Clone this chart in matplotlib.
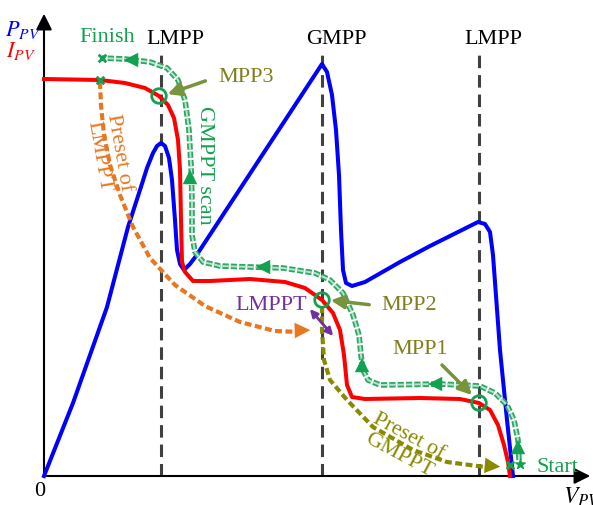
import numpy as np
import matplotlib
matplotlib.use("Agg")
from matplotlib import pyplot as plt

plt.rcParams['lines.scale_dashes'] = False
plt.rcParams['mathtext.fontset'] = 'stix'
plt.rcParams['font.family'] = ['Liberation Serif', 'DejaVu Serif']

# curva de potencia P-V (unidades arbitrarias)
v_p = [0, 29, 63, 84, 96, 103, 109, 113, 117, 121, 125, 128, 131, 133, 136, 140, 146, 152,
       278, 283, 288, 292, 295, 297, 299, 302, 308, 321, 356, 386, 416, 434, 441, 446,
       449, 456, 463, 469]
p_pv = [0, 73, 169, 249, 286, 308, 323, 330, 333, 330, 318, 296, 256, 226, 212, 206, 212, 220,
        412, 404, 381, 346, 301, 246, 206, 193, 190, 194, 214, 230, 245, 254, 252, 244,
        221, 126, 56, 0]

# curva de corriente I-V
v_i = [0, 56, 81, 101, 115, 124, 130, 134, 136, 137, 138, 141, 149, 166, 206, 241, 261,
       278, 289, 296, 300, 303, 308, 321, 376, 416, 435, 446, 454, 460, 464, 466]
i_pv = [397, 396, 393, 388, 380, 371, 358, 336, 306, 256, 214, 204, 195, 195, 197, 194, 188,
        176, 163, 146, 121, 91, 79, 77, 78, 77, 73, 66, 51, 31, 14, 0]

# barrido GMPPT (de Start a Finish)
v_scan = [475, 474, 470, 463, 451, 436, 396, 336, 324, 319, 317, 315, 309, 299, 286, 271,
          239, 176, 159, 151, 148, 148, 147, 145, 141, 134, 123, 106, 81, 58]
p_scan = [16, 36, 56, 71, 83, 90, 92, 91, 96, 106, 121, 141, 161, 183, 196, 203,
          208, 210, 214, 224, 241, 276, 311, 346, 376, 396, 408, 414, 417, 418]
# flechas sobre el barrido: (v, p, dv, dp)
scan_arrows = [(474, 30, 0, 1), (390, 92, -1, 0), (318, 112, 0, 1),
               (218, 209, -1, 0), (146, 300, 0, 1), (86, 416, -1, 0)]

# preset de LMPPT
v_lmppt = [56, 57, 60, 66, 76, 89, 106, 131, 161, 196, 231, 256, 269]
p_lmppt = [394, 371, 341, 311, 281, 249, 218, 191, 170, 154, 145, 144, 146]

# preset de GMPPT
v_gmppt = [278, 278, 280, 286, 303, 329, 369, 403, 441, 459]
p_gmppt = [170, 146, 116, 96, 76, 49, 26, 14, 9, 9]

v_mpp = [115, 278, 435]
p_mpp = [380, 176, 73]
mpp_names = ['MPP3', 'MPP2', 'MPP1']

v_peaks = [117, 278, 435]
peak_names = ['LMPP', 'GMPP', 'LMPP']

fs = 16
fig = plt.figure(figsize=(5.93, 5.05), dpi=100)
ax = fig.add_axes([0, 0, 1, 1])
ax.set_xlim(-44, 549)
ax.set_ylim(-29, 476)
ax.axis('off')

# ejes con flecha
ax.annotate('', xy=(0, 465), xytext=(0, 0),
            arrowprops=dict(arrowstyle='-|>', color='black', lw=1.5, mutation_scale=24))
ax.annotate('', xy=(549, 0), xytext=(0, 0),
            arrowprops=dict(arrowstyle='-|>', color='black', lw=1.5, mutation_scale=24))
ax.text(-4, -16, '0', fontsize=fs, ha='center', va='center')
ax.text(538, -21, '$V_{PV}$', fontsize=17, ha='center', va='center')
ax.text(-21, 446, '$P_{PV}$', fontsize=16, ha='center', va='center', color='blue')
ax.text(-23, 425, '$I_{PV}$', fontsize=16, ha='center', va='center', color='red')

# lineas verticales de los picos
for vx, name in zip(v_peaks, peak_names):
    ax.plot([vx, vx], [0, 423], color='#404040', lw=2.2, dashes=(9, 5), zorder=1)
    ax.text(vx + 14, 436, name, fontsize=fs, ha='center', va='center')

ax.plot(v_p, p_pv, color='blue', lw=2.9, zorder=3, solid_joinstyle='round')
ax.plot(v_i, i_pv, color='red', lw=2.9, zorder=3, solid_joinstyle='round')

# barrido
ax.plot(v_scan, p_scan, color='#2aa862', lw=4, dashes=(4.5, 1.5), zorder=4)
ax.plot(v_scan, p_scan, color='#b5e4c8', lw=1.4, dashes=(4.5, 1.5), zorder=5)
for x0, y0, dx, dy in scan_arrows:
    ax.annotate('', xy=(x0 + 9 * dx, y0 + 9 * dy), xytext=(x0, y0),
                arrowprops=dict(arrowstyle='-|>', color='#12a150', lw=0, mutation_scale=26),
                zorder=6)

ax.plot(v_lmppt[:-1], p_lmppt[:-1], color='#e87722', lw=3, dashes=(5, 2.5), zorder=4)
ax.annotate('', xy=(v_lmppt[-1], p_lmppt[-1]), xytext=(v_lmppt[-3], p_lmppt[-3]),
            arrowprops=dict(arrowstyle='-|>', color='#e87722', lw=0, mutation_scale=28), zorder=6)
ax.plot(v_gmppt[:-1], p_gmppt[:-1], color='#8a8a00', lw=3, dashes=(5, 2.5), zorder=4)
ax.annotate('', xy=(v_gmppt[-1], p_gmppt[-1]), xytext=(v_gmppt[-3], p_gmppt[-3]),
            arrowprops=dict(arrowstyle='-|>', color='#8a8a00', lw=0, mutation_scale=28), zorder=6)

# puntos de maxima potencia
ax.scatter(v_mpp, p_mpp, s=110, facecolors='none', edgecolors='#12a150', linewidths=2, zorder=7)
ax.scatter([58, 56, 466], [418, 396, 11], marker='x', s=30, color='#12a150', linewidths=2, zorder=7)
ax.scatter([476], [12], marker='*', s=50, color='#12a150', zorder=7)

# etiquetas MPP
olive = '#7f7f1f'
arrow_c = '#77933c'
lab_pos = [(202, 398), (365, 171), (376, 126)]
arr_from = [(164, 396), (328, 171), (396, 113)]
arr_to = [(121, 381), (284, 176), (430, 79)]
for name, lp, af, at in zip(mpp_names, lab_pos, arr_from, arr_to):
    ax.text(lp[0], lp[1], name, fontsize=fs, ha='center', va='center', color=olive)
    ax.annotate('', xy=at, xytext=af,
                arrowprops=dict(arrowstyle='-|>', color=arrow_c, lw=2.5, mutation_scale=20),
                zorder=8)

ax.text(227, 171, 'LMPPT', fontsize=fs, ha='center', va='center', color='#7030a0')
ax.annotate('', xy=(291, 138), xytext=(264, 169),
            arrowprops=dict(arrowstyle='<|-|>', color='#7030a0', lw=2, mutation_scale=11), zorder=8)

ax.text(63, 439, 'Finish', fontsize=fs, ha='center', va='center', color='#12a150')
ax.text(513, 9, 'Start', fontsize=fs, ha='center', va='center', color='#12a150')
ax.text(160, 311, 'GMPPT scan', fontsize=fs, ha='center', va='center', color='#12a150',
        rotation=-90, rotation_mode='anchor')
ax.text(65, 321, 'Preset of\nLMPPT', fontsize=fs, ha='center', va='center', color='#e87722',
        rotation=-80, rotation_mode='anchor', multialignment='center', linespacing=1.15)
ax.text(360, 30, 'Preset of\nGMPPT', fontsize=fs, ha='center', va='center', color='#8a8a00',
        rotation=-28, rotation_mode='anchor', multialignment='center', linespacing=1.15)

fig.savefig('out.png', dpi=100)
